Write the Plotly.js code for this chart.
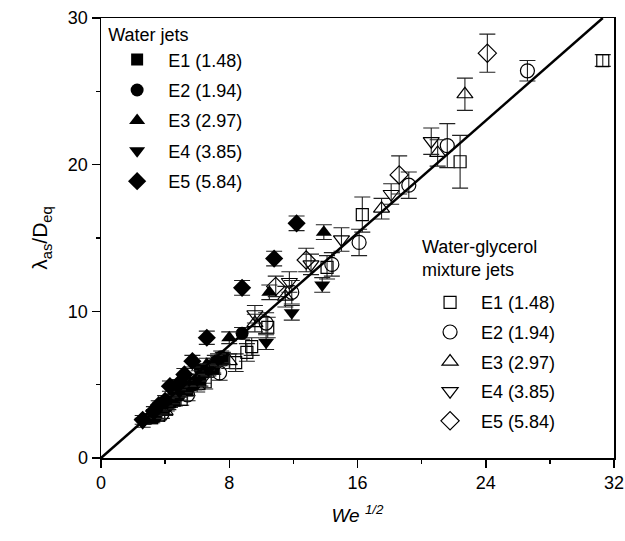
<!DOCTYPE html>
<html>
<head>
<meta charset="utf-8">
<script src="https://cdn.plot.ly/plotly-3.0.1.min.js"></script>
<style>html,body{margin:0;padding:0;background:#fff;}#chart{width:625px;height:541px;}</style>
</head>
<body>
<div id="chart"></div>
<script>
// Water jets (filled markers)
const w1x = [3.2, 3.9, 4.3, 4.6, 5.0, 5.4, 6.2, 7.0, 7.6];
const w1y = [2.7, 3.3, 3.8, 3.9, 4.8, 4.6, 5.3, 6.1, 6.8];
const w1e = [0.3, 0.3, 0.35, 0.35, 0.35, 0.35, 0.4, 0.4, 0.4];
const w2x = [3.0, 3.4, 4.1, 4.5, 4.9, 5.8, 6.2, 6.6, 7.5, 8.8];
const w2y = [2.7, 2.8, 3.5, 4.2, 4.3, 5.0, 6.0, 5.9, 6.9, 8.5];
const w2e = [0.3, 0.3, 0.3, 0.35, 0.35, 0.35, 0.4, 0.4, 0.4, 0.4];
const w3x = [3.7, 4.4, 4.8, 5.2, 6.1, 6.6, 7.1, 8.0, 10.5, 13.9];
const w3y = [3.3, 4.0, 4.6, 4.8, 5.6, 6.4, 6.6, 8.2, 11.3, 15.4];
const w3e = [0.3, 0.3, 0.35, 0.35, 0.35, 0.4, 0.4, 0.4, 0.5, 0.5];
const w4x = [2.6, 3.3, 3.7, 4.1, 4.9, 5.5, 6.0, 6.7, 7.3, 10.3, 11.9, 13.8];
const w4y = [2.4, 3.0, 3.5, 3.7, 4.5, 5.3, 5.3, 6.0, 6.7, 7.9, 9.9, 11.8];
const w4e = [0.3, 0.3, 0.3, 0.35, 0.35, 0.4, 0.4, 0.4, 0.4, 0.5, 0.5, 0.5];
const w5x = [2.6, 3.3, 3.6, 4.0, 4.3, 4.8, 5.2, 5.7, 6.6, 8.8, 10.8, 12.2];
const w5y = [2.6, 3.2, 3.6, 3.9, 4.9, 5.0, 5.7, 6.6, 8.2, 11.6, 13.6, 16.0];
const w5e = [0.3, 0.3, 0.3, 0.35, 0.35, 0.35, 0.4, 0.4, 0.45, 0.5, 0.5, 0.5];

// Water-glycerol mixture jets (open markers)
const g1x = [3.6, 5.0, 6.5, 8.4, 9.1, 9.4, 10.4, 14.1, 16.3, 22.4, 31.3];
const g1y = [2.9, 4.0, 5.2, 6.5, 7.2, 7.6, 8.9, 13.0, 16.6, 20.2, 27.1];
const g1e = [0.3, 0.4, 0.5, 0.6, 0.6, 0.6, 0.7, 0.8, 1.2, 1.8, 0.4];
const g2x = [3.8, 5.4, 7.4, 10.3, 11.9, 14.4, 16.1, 19.2, 21.6, 26.6];
const g2y = [3.0, 4.3, 5.8, 9.2, 11.3, 13.2, 14.7, 18.6, 21.3, 26.4];
const g2e = [0.3, 0.4, 0.5, 0.7, 0.8, 0.8, 0.9, 0.9, 1.5, 0.7];
const g3x = [4.0, 6.0, 8.0, 9.6, 11.5, 17.5, 21.0, 22.7];
const g3y = [3.2, 4.9, 6.6, 9.2, 11.0, 17.0, 20.8, 24.8];
const g3e = [0.3, 0.4, 0.5, 0.6, 0.7, 0.7, 0.9, 1.1];
const g4x = [4.2, 6.4, 9.6, 11.75, 13.1, 15.0, 18.1, 20.6];
const g4y = [3.6, 5.5, 9.8, 12.0, 13.2, 14.9, 18.0, 21.6];
const g4e = [0.3, 0.4, 0.6, 0.7, 0.7, 0.8, 0.7, 0.9];
const g5x = [4.4, 7.0, 10.9, 12.8, 18.6, 24.1];
const g5y = [3.9, 6.3, 11.7, 13.5, 19.3, 27.6];
const g5e = [0.3, 0.5, 0.7, 0.8, 1.3, 1.3];

// Fit line end points
const fitX = [0, 31.3];
const fitY = [0, 30];

const names = ["E1 (1.48)", "E2 (1.94)", "E3 (2.97)", "E4 (3.85)", "E5 (5.84)"];

const FONT = "Liberation Sans, Arial, Helvetica, sans-serif";

function tr(x, y, e, name, symbol, size, legend, grp) {
  return {
    type: "scatter", mode: "markers", x: x, y: y, name: name,
    legend: legend, legendgroup: grp,
    marker: {symbol: symbol, size: size, color: "#000",
             line: {color: "#000", width: symbol.indexOf("open") >= 0 ? 1.2 : 0}},
    error_y: {type: "data", array: e, visible: true, color: "#222", thickness: 1.1, width: 8},
    cliponaxis: false
  };
}

const data = [
  tr(g1x, g1y, g1e, names[0], "square-open", 12, "legend2", "g1"),
  tr(g2x, g2y, g2e, names[1], "circle-open", 14, "legend2", "g2"),
  tr(g3x, g3y, g3e, names[2], "triangle-up-open", 14, "legend2", "g3"),
  tr(g4x, g4y, g4e, names[3], "triangle-down-open", 14, "legend2", "g4"),
  tr(g5x, g5y, g5e, names[4], "diamond-open", 14, "legend2", "g5"),
  tr(w1x, w1y, w1e, names[0], "square", 12, "legend", "w1"),
  tr(w2x, w2y, w2e, names[1], "circle", 13, "legend", "w2"),
  tr(w3x, w3y, w3e, names[2], "triangle-up", 14, "legend", "w3"),
  tr(w4x, w4y, w4e, names[3], "triangle-down", 14, "legend", "w4"),
  tr(w5x, w5y, w5e, names[4], "diamond", 14, "legend", "w5"),
  {type: "scatter", mode: "lines", x: fitX, y: fitY, showlegend: false,
   line: {color: "#000", width: 2.5}, hoverinfo: "skip"}
];

const axisCommon = {
  showgrid: false, zeroline: false, showline: true, mirror: true,
  linecolor: "#000", linewidth: 1.5, ticks: "outside", ticklen: 8, tickwidth: 1.5,
  tickcolor: "#000", tickfont: {family: FONT, size: 18, color: "#000"}
};

const legCommon = {
  font: {family: FONT, size: 18, color: "#000"}, bgcolor: "rgba(0,0,0,0)",
  borderwidth: 0, itemwidth: 52, tracegroupgap: 4, traceorder: "grouped",
  xanchor: "left", yanchor: "top", xref: "paper", yref: "paper", itemclick: false
};

const layout = {
  width: 625, height: 541,
  margin: {l: 101, r: 11, t: 18, b: 83},
  paper_bgcolor: "#fff", plot_bgcolor: "#fff",
  showlegend: true,
  xaxis: Object.assign({}, axisCommon, {
    range: [0, 32], tickvals: [0, 8, 16, 24, 32],
    minor: {tickvals: [4, 12, 20, 28], ticks: "outside", ticklen: 4, tickwidth: 1.5, tickcolor: "#000"},
    title: {text: "<i>We <sup>1/2</sup></i>", font: {family: FONT, size: 19, color: "#000"}, standoff: 16}
  }),
  yaxis: Object.assign({}, axisCommon, {
    range: [0, 30], tickvals: [0, 10, 20, 30],
    minor: {tickvals: [5, 15, 25], ticks: "outside", ticklen: 4, tickwidth: 1.5, tickcolor: "#000"},
    title: {text: "λ<sub>as</sub>/D<sub>eq</sub>", font: {family: FONT, size: 21, color: "#000"}, standoff: 14}
  }),
  legend: Object.assign({}, legCommon, {
    x: 0.01, y: 1.0,
    title: {text: "Water jets", font: {family: FONT, size: 18, color: "#000"}}
  }),
  legend2: Object.assign({}, legCommon, {
    x: 0.62, y: 0.395, tracegroupgap: 3.2
  }),
  annotations: [{
    text: "Water-glycerol<br>mixture jets", xref: "paper", yref: "paper",
    x: 0.622, y: 0.4545, xanchor: "left", yanchor: "middle", align: "left",
    showarrow: false, font: {family: FONT, size: 18, color: "#000"}
  }]
};

Plotly.newPlot("chart", data, layout, {displayModeBar: false, staticPlot: true});
</script>
</body>
</html>
